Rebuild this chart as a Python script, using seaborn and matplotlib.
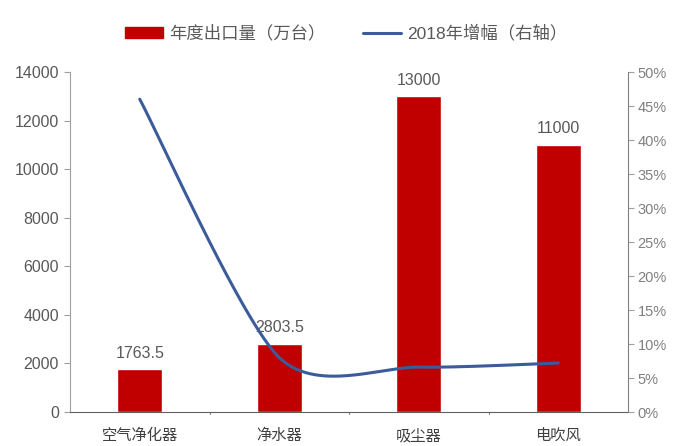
import numpy as np
import pandas as pd
import matplotlib
matplotlib.use("Agg")
import matplotlib.pyplot as plt
import seaborn as sns
from matplotlib.patches import Patch
from matplotlib.lines import Line2D

categories = ["空气净化器", "净水器", "吸尘器", "电吹风"]
export_volume = [1763.5, 2803.5, 13000, 11000]
growth_2018 = [46.0, 8.0, 6.6, 7.2]
bar_labels = ["1763.5", "2803.5", "13000", "11000"]
left_ticks = [0, 2000, 4000, 6000, 8000, 10000, 12000, 14000]
right_ticks = [0, 5, 10, 15, 20, 25, 30, 35, 40, 45, 50]

sns.set_style("white")
plt.rcParams['font.family'] = ['Liberation Sans', 'Noto Sans CJK SC']

BAR = "#C00000"
LINE = "#3B5B9B"
GRAY = "#595959"

fig = plt.figure(figsize=(6.76, 4.46), dpi=100)
ax = fig.add_axes([70/676, 34/446, 558/676, 340/446])

df = pd.DataFrame({"cat": categories, "val": export_volume})
sns.barplot(data=df, x="cat", y="val", color=BAR, saturation=1, width=0.32, ax=ax)
ax.set_xlim(-0.5, 3.5)
ax.set_ylim(0, 14000)
ax.set_yticks(left_ticks)
ax.set_yticklabels([str(t) for t in left_ticks])
ax.set_xlabel("")
ax.set_ylabel("")

for i, (v, lab) in enumerate(zip(export_volume, bar_labels)):
    ax.text(i, v + 350, lab, ha="center", va="bottom", fontsize=11.5, color=GRAY)

ax.set_xticks(range(len(categories)))
ax.set_xticklabels(categories, fontsize=11, color="#404040",
                   family=['Noto Sans CJK SC'])
ax.tick_params(axis="x", length=0, pad=11)
for b in [0.5, 1.5, 2.5]:
    ax.plot([b, b], [0, -80], color="#808080", lw=0.8, clip_on=False)

ax.tick_params(axis="y", direction="out", length=4, width=0.8, color="#A0A0A0",
               labelsize=11.5, labelcolor=GRAY, pad=4)
for s in ["top", "right"]:
    ax.spines[s].set_visible(False)
ax.spines["left"].set_color("#A0A0A0")
ax.spines["bottom"].set_color("#606060")

ax2 = ax.twinx()
ax2.set_position([70/676, 34/446, 558/676, 340/446])
ax2.set_ylim(0, 50)
ax2.set_yticks(right_ticks)
ax2.set_yticklabels([f"{t}%" for t in right_ticks])
ax2.tick_params(axis="y", direction="out", length=4, width=0.8, color="#A0A0A0",
                labelsize=10.5, labelcolor="#808080", pad=3)
for s in ["top", "left", "bottom"]:
    ax2.spines[s].set_visible(False)
ax2.spines["right"].set_color("#808080")

# smooth (Excel-like) bezier curve through the data points
xs = np.arange(len(growth_2018), dtype=float)
ys = np.array(growth_2018, dtype=float)
px = np.concatenate([[xs[0]], xs, [xs[-1]]])
py = np.concatenate([[ys[0]], ys, [ys[-1]]])
cx, cy = [], []
t = np.linspace(0, 1, 60)
ten = 0.8
for k in range(len(xs) - 1):
    p0 = np.array([px[k], py[k]]); p1 = np.array([px[k+1], py[k+1]])
    p2 = np.array([px[k+2], py[k+2]]); p3 = np.array([px[k+3], py[k+3]])
    c1 = p1 + ten * (p2 - p0) / 6
    c2 = p2 - ten * (p3 - p1) / 6
    seg = ((1-t)**3)[:, None]*p1 + (3*(1-t)**2*t)[:, None]*c1 + (3*(1-t)*t**2)[:, None]*c2 + (t**3)[:, None]*p2
    cx.extend(seg[:, 0]); cy.extend(seg[:, 1])
ax2.plot(cx, cy, color=LINE, lw=2.2, solid_capstyle="round")
ax2.set_xlim(-0.5, 3.5)

handles = [Patch(facecolor=BAR, edgecolor=BAR),
           Line2D([0], [0], color=LINE, lw=2.2)]
labels = ["年度出口量（万台）", "2018年增幅（右轴）"]
fig.legend(handles, labels, loc="center", bbox_to_anchor=(0.512, 1 - 33/446), ncol=2,
           frameon=False, labelcolor=GRAY, handlelength=2.2,
           handleheight=0.55, handletextpad=0.3, columnspacing=2.2,
           prop={'family': ['Liberation Sans', 'Noto Sans CJK SC'], 'size': 12.5})

fig.savefig("out.png", dpi=100)
